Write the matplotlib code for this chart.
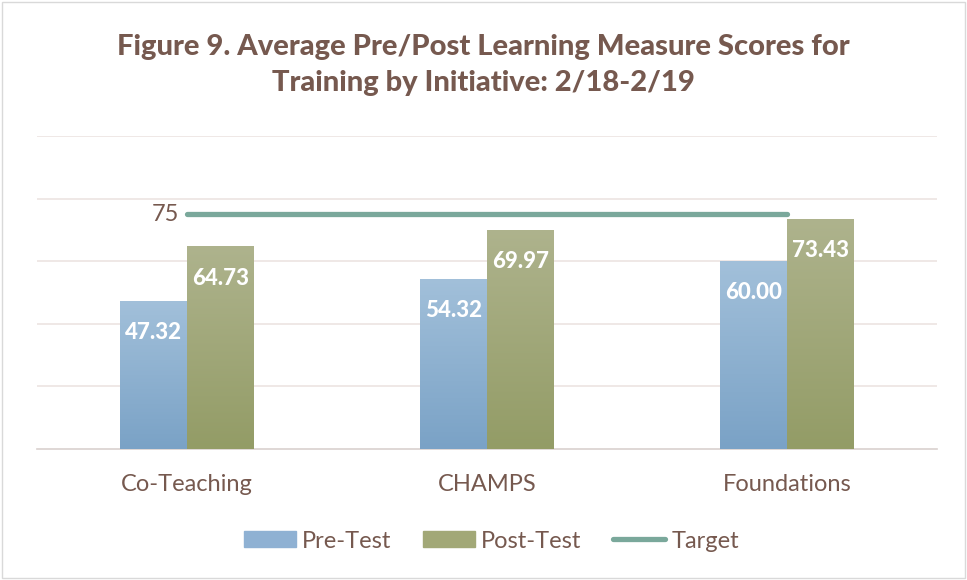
import numpy as np
import matplotlib.pyplot as plt
from matplotlib.colors import LinearSegmentedColormap
from matplotlib.lines import Line2D
from matplotlib.patches import Rectangle

# Dados
categorias = ["Co-Teaching", "CHAMPS", "Foundations"]
pre_test = [47.32, 54.32, 60.00]
post_test = [64.73, 69.97, 73.43]
meta = 75

marrom = "#76594f"
plt.rcParams["font.family"] = ["Lato", "DejaVu Sans"]

fig = plt.figure(figsize=(9.67, 5.8), dpi=100)
ax = fig.add_axes([37 / 967, (580 - 449) / 580, 900 / 967, (449 - 136) / 580])

x = np.arange(len(categorias))
largura = 0.223

barras_pre = ax.bar(x - largura / 2, pre_test, largura, color="#8fb1d3", zorder=2)
barras_pos = ax.bar(x + largura / 2, post_test, largura, color="#a2a877", zorder=2)

# degradê nas barras
def degrade(barras, topo, base):
    cmap = LinearSegmentedColormap.from_list("g", [base, topo])
    grad = np.linspace(0, 1, 256).reshape(-1, 1)
    for b in barras:
        x0, y0 = b.get_x(), b.get_y()
        w, h = b.get_width(), b.get_height()
        im = ax.imshow(grad, cmap=cmap, aspect="auto", origin="lower",
                       extent=[x0, x0 + w, y0, y0 + h], zorder=3)
        im.set_clip_path(b)

degrade(barras_pre, "#a2c0da", "#7aa2c6")
degrade(barras_pos, "#aeb38d", "#939c66")

# rótulos
for b, v in zip(list(barras_pre) + list(barras_pos), pre_test + post_test):
    ax.text(b.get_x() + b.get_width() / 2, v - 12.2, f"{v:.2f}", ha="center", va="baseline",
            color="white", fontsize=16, fontweight=900, zorder=5)

# linha de meta
ax.plot([x[0], x[-1]], [meta, meta], color="#7aa89b", lw=3.8,
        solid_capstyle="round", zorder=4)
ax.text(x[0] - 0.025, meta, str(meta), ha="right", va="center", color=marrom, fontsize=17)

ax.set_xlim(-0.5, 2.5)
ax.set_ylim(0, 100)
ax.set_yticks([20, 40, 60, 80, 100])
ax.yaxis.grid(True, color="#ece4e2", lw=1.2, zorder=0)
ax.set_axisbelow(True)
ax.tick_params(axis="y", left=False, labelleft=False)
ax.tick_params(axis="x", length=0, pad=18, labelsize=17, labelcolor=marrom)
ax.set_xticks(x)
ax.set_xticklabels(categorias)
for s in ["top", "right", "left"]:
    ax.spines[s].set_visible(False)
ax.spines["bottom"].set_color("#d9d1ce")
ax.spines["bottom"].set_linewidth(1.2)

fig.text(0.5, 1 - 47 / 580, "Figure 9. Average Pre/Post Learning Measure Scores for",
         ha="center", va="center", fontsize=21, fontweight=900, color=marrom)
fig.text(0.5, 1 - 83 / 580, "Training by Initiative: 2/18-2/19",
         ha="center", va="center", fontsize=21, fontweight=900, color=marrom)

# legenda
handles = [Rectangle((0, 0), 1, 1, color="#8fb1d3"),
           Rectangle((0, 0), 1, 1, color="#a2a877"),
           Line2D([], [], color="#7aa89b", lw=3.8, solid_capstyle="round")]
leg = fig.legend(handles, ["Pre-Test", "Post-Test", "Target"], loc="center",
                 bbox_to_anchor=(0.5 + 8 / 967, 1 - 541 / 580), ncol=3, frameon=False,
                 fontsize=17, handlelength=2.2, handleheight=0.65, handletextpad=0.25,
                 columnspacing=1.35)
for t in leg.get_texts():
    t.set_color(marrom)

# moldura
fig.patches.append(Rectangle((0.002, 0.003), 0.996, 0.994, transform=fig.transFigure,
                             fill=False, edgecolor="#d9d9d9", lw=1))

plt.savefig("out.png", dpi=100)
